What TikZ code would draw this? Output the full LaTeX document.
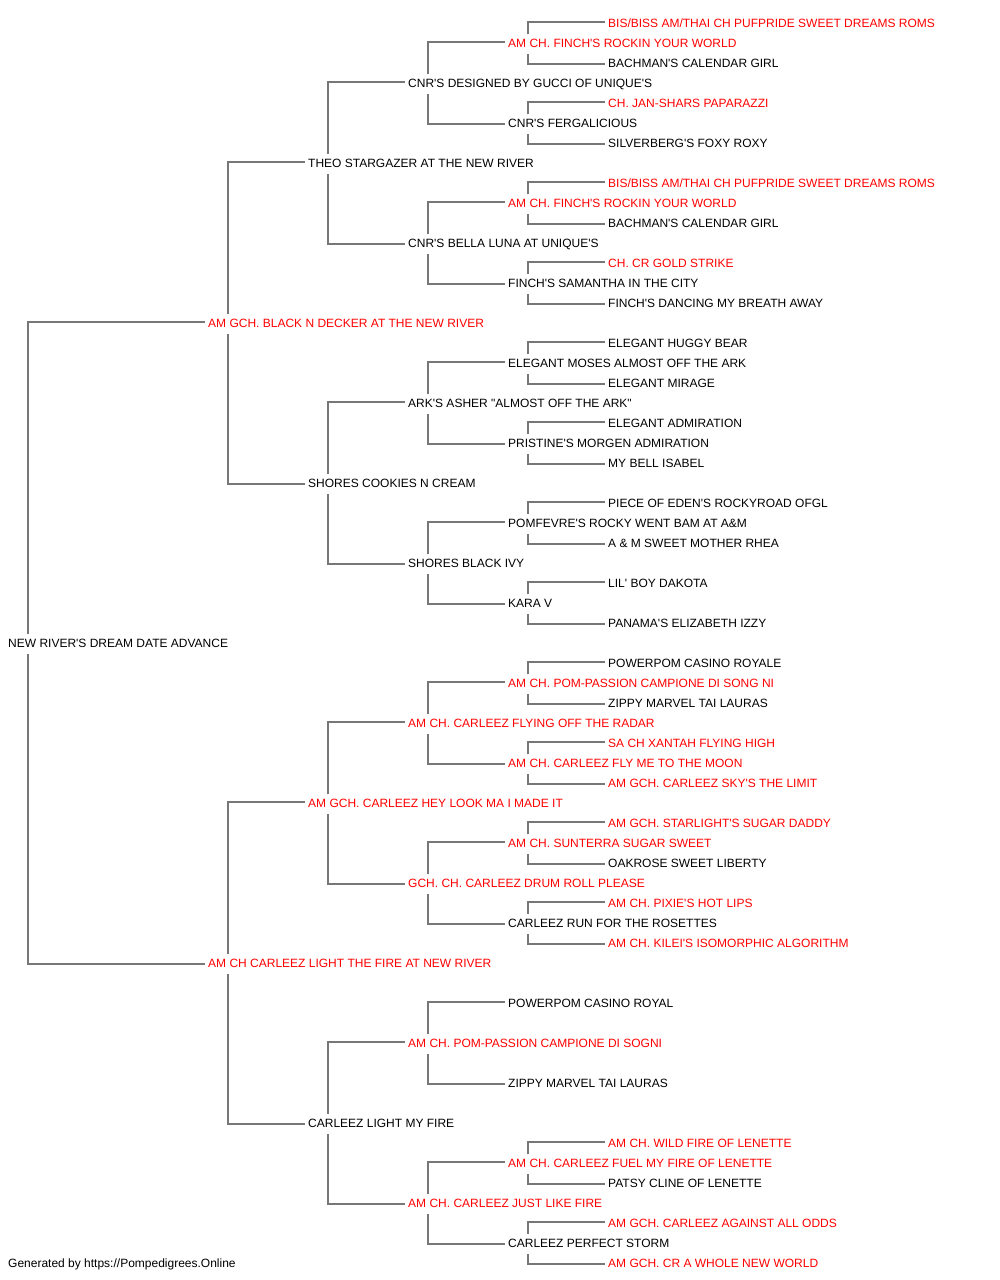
\documentclass[tikz,border=0pt]{standalone}
\usepackage{fontspec}
\newfontfamily\arialf{Liberation Sans}
\definecolor{linegray}{HTML}{777777}
\definecolor{namered}{HTML}{FF0000}
\tikzset{
  nm/.style={anchor=west, inner sep=0pt, text height=8.6pt, text depth=0pt, font=\arialf\fontsize{12}{14}\selectfont},
  blk/.style={nm, text=black},
  rd/.style={nm, text=namered},
  conn/.style={draw=linegray, line width=2pt}
}
\newcommand\lnk[3]{%
  \draw[conn] ([xshift=20pt,yshift=9pt]#1.west) |- ([xshift=-3pt,yshift=1pt]#2.west);
  \draw[conn] ([xshift=20pt,yshift=-11pt]#1.west) |- ([xshift=-3pt,yshift=-1pt]#3.west);}
\begin{document}
\begin{tikzpicture}[x=1pt,y=-1pt]
\useasboundingbox (0,0) rectangle (1000,1280);
% generation 0
\node[blk] (r) at (8,643) {NEW RIVER'S DREAM DATE ADVANCE};
% generation 1
\node[rd] (s) at (208,323) {AM GCH. BLACK N DECKER AT THE NEW RIVER};
\node[rd] (d) at (208,963) {AM CH CARLEEZ LIGHT THE FIRE AT NEW RIVER};
% generation 2
\node[blk] (ss) at (308,163) {THEO STARGAZER AT THE NEW RIVER};
\node[blk] (sd) at (308,483) {SHORES COOKIES N CREAM};
\node[rd] (ds) at (308,803) {AM GCH. CARLEEZ HEY LOOK MA I MADE IT};
\node[blk] (dd) at (308,1123) {CARLEEZ LIGHT MY FIRE};
% generation 3
\node[blk] (sss) at (408,83) {CNR'S DESIGNED BY GUCCI OF UNIQUE'S};
\node[blk] (ssd) at (408,243) {CNR'S BELLA LUNA AT UNIQUE'S};
\node[blk] (sds) at (408,403) {ARK'S ASHER "ALMOST OFF THE ARK"};
\node[blk] (sdd) at (408,563) {SHORES BLACK IVY};
\node[rd] (dss) at (408,723) {AM CH. CARLEEZ FLYING OFF THE RADAR};
\node[rd] (dsd) at (408,883) {GCH. CH. CARLEEZ DRUM ROLL PLEASE};
\node[rd] (dds) at (408,1043) {AM CH. POM-PASSION CAMPIONE DI SOGNI};
\node[rd] (ddd) at (408,1203) {AM CH. CARLEEZ JUST LIKE FIRE};
% generation 4
\node[rd] (ssss) at (508,43) {AM CH. FINCH'S ROCKIN YOUR WORLD};
\node[blk] (sssd) at (508,123) {CNR'S FERGALICIOUS};
\node[rd] (ssds) at (508,203) {AM CH. FINCH'S ROCKIN YOUR WORLD};
\node[blk] (ssdd) at (508,283) {FINCH'S SAMANTHA IN THE CITY};
\node[blk] (sdss) at (508,363) {ELEGANT MOSES ALMOST OFF THE ARK};
\node[blk] (sdsd) at (508,443) {PRISTINE'S MORGEN ADMIRATION};
\node[blk] (sdds) at (508,523) {POMFEVRE'S ROCKY WENT BAM AT A\&M};
\node[blk] (sddd) at (508,603) {KARA V};
\node[rd] (dsss) at (508,683) {AM CH. POM-PASSION CAMPIONE DI SONG NI};
\node[rd] (dssd) at (508,763) {AM CH. CARLEEZ FLY ME TO THE MOON};
\node[rd] (dsds) at (508,843) {AM CH. SUNTERRA SUGAR SWEET};
\node[blk] (dsdd) at (508,923) {CARLEEZ RUN FOR THE ROSETTES};
\node[blk] (ddss) at (508,1003) {POWERPOM CASINO ROYAL};
\node[blk] (ddsd) at (508,1083) {ZIPPY MARVEL TAI LAURAS};
\node[rd] (ddds) at (508,1163) {AM CH. CARLEEZ FUEL MY FIRE OF LENETTE};
\node[blk] (dddd) at (508,1243) {CARLEEZ PERFECT STORM};
% generation 5
\node[rd] (sssss) at (608,23) {BIS/BISS AM/THAI CH PUFPRIDE SWEET DREAMS ROMS};
\node[blk] (ssssd) at (608,63) {BACHMAN'S CALENDAR GIRL};
\node[rd] (sssds) at (608,103) {CH. JAN-SHARS PAPARAZZI};
\node[blk] (sssdd) at (608,143) {SILVERBERG'S FOXY ROXY};
\node[rd] (ssdss) at (608,183) {BIS/BISS AM/THAI CH PUFPRIDE SWEET DREAMS ROMS};
\node[blk] (ssdsd) at (608,223) {BACHMAN'S CALENDAR GIRL};
\node[rd] (ssdds) at (608,263) {CH. CR GOLD STRIKE};
\node[blk] (ssddd) at (608,303) {FINCH'S DANCING MY BREATH AWAY};
\node[blk] (sdsss) at (608,343) {ELEGANT HUGGY BEAR};
\node[blk] (sdssd) at (608,383) {ELEGANT MIRAGE};
\node[blk] (sdsds) at (608,423) {ELEGANT ADMIRATION};
\node[blk] (sdsdd) at (608,463) {MY BELL ISABEL};
\node[blk] (sddss) at (608,503) {PIECE OF EDEN'S ROCKYROAD OFGL};
\node[blk] (sddsd) at (608,543) {A \& M SWEET MOTHER RHEA};
\node[blk] (sddds) at (608,583) {LIL' BOY DAKOTA};
\node[blk] (sdddd) at (608,623) {PANAMA'S ELIZABETH IZZY};
\node[blk] (dssss) at (608,663) {POWERPOM CASINO ROYALE};
\node[blk] (dsssd) at (608,703) {ZIPPY MARVEL TAI LAURAS};
\node[rd] (dssds) at (608,743) {SA CH XANTAH FLYING HIGH};
\node[rd] (dssdd) at (608,783) {AM GCH. CARLEEZ SKY'S THE LIMIT};
\node[rd] (dsdss) at (608,823) {AM GCH. STARLIGHT'S SUGAR DADDY};
\node[blk] (dsdsd) at (608,863) {OAKROSE SWEET LIBERTY};
\node[rd] (dsdds) at (608,903) {AM CH. PIXIE'S HOT LIPS};
\node[rd] (dsddd) at (608,943) {AM CH. KILEI'S ISOMORPHIC ALGORITHM};
\node[rd] (dddss) at (608,1143) {AM CH. WILD FIRE OF LENETTE};
\node[blk] (dddsd) at (608,1183) {PATSY CLINE OF LENETTE};
\node[rd] (dddds) at (608,1223) {AM GCH. CARLEEZ AGAINST ALL ODDS};
\node[rd] (ddddd) at (608,1263) {AM GCH. CR A WHOLE NEW WORLD};
% footer
\node[blk] (foot) at (8,1263) {Generated by https://Pompedigrees.Online};
% connectors
\lnk{r}{s}{d}
\lnk{s}{ss}{sd}
\lnk{d}{ds}{dd}
\lnk{ss}{sss}{ssd}
\lnk{sd}{sds}{sdd}
\lnk{ds}{dss}{dsd}
\lnk{dd}{dds}{ddd}
\lnk{sss}{ssss}{sssd}
\lnk{ssd}{ssds}{ssdd}
\lnk{sds}{sdss}{sdsd}
\lnk{sdd}{sdds}{sddd}
\lnk{dss}{dsss}{dssd}
\lnk{dsd}{dsds}{dsdd}
\lnk{dds}{ddss}{ddsd}
\lnk{ddd}{ddds}{dddd}
\lnk{ssss}{sssss}{ssssd}
\lnk{sssd}{sssds}{sssdd}
\lnk{ssds}{ssdss}{ssdsd}
\lnk{ssdd}{ssdds}{ssddd}
\lnk{sdss}{sdsss}{sdssd}
\lnk{sdsd}{sdsds}{sdsdd}
\lnk{sdds}{sddss}{sddsd}
\lnk{sddd}{sddds}{sdddd}
\lnk{dsss}{dssss}{dsssd}
\lnk{dssd}{dssds}{dssdd}
\lnk{dsds}{dsdss}{dsdsd}
\lnk{dsdd}{dsdds}{dsddd}
\lnk{ddds}{dddss}{dddsd}
\lnk{dddd}{dddds}{ddddd}
\end{tikzpicture}
\end{document}
